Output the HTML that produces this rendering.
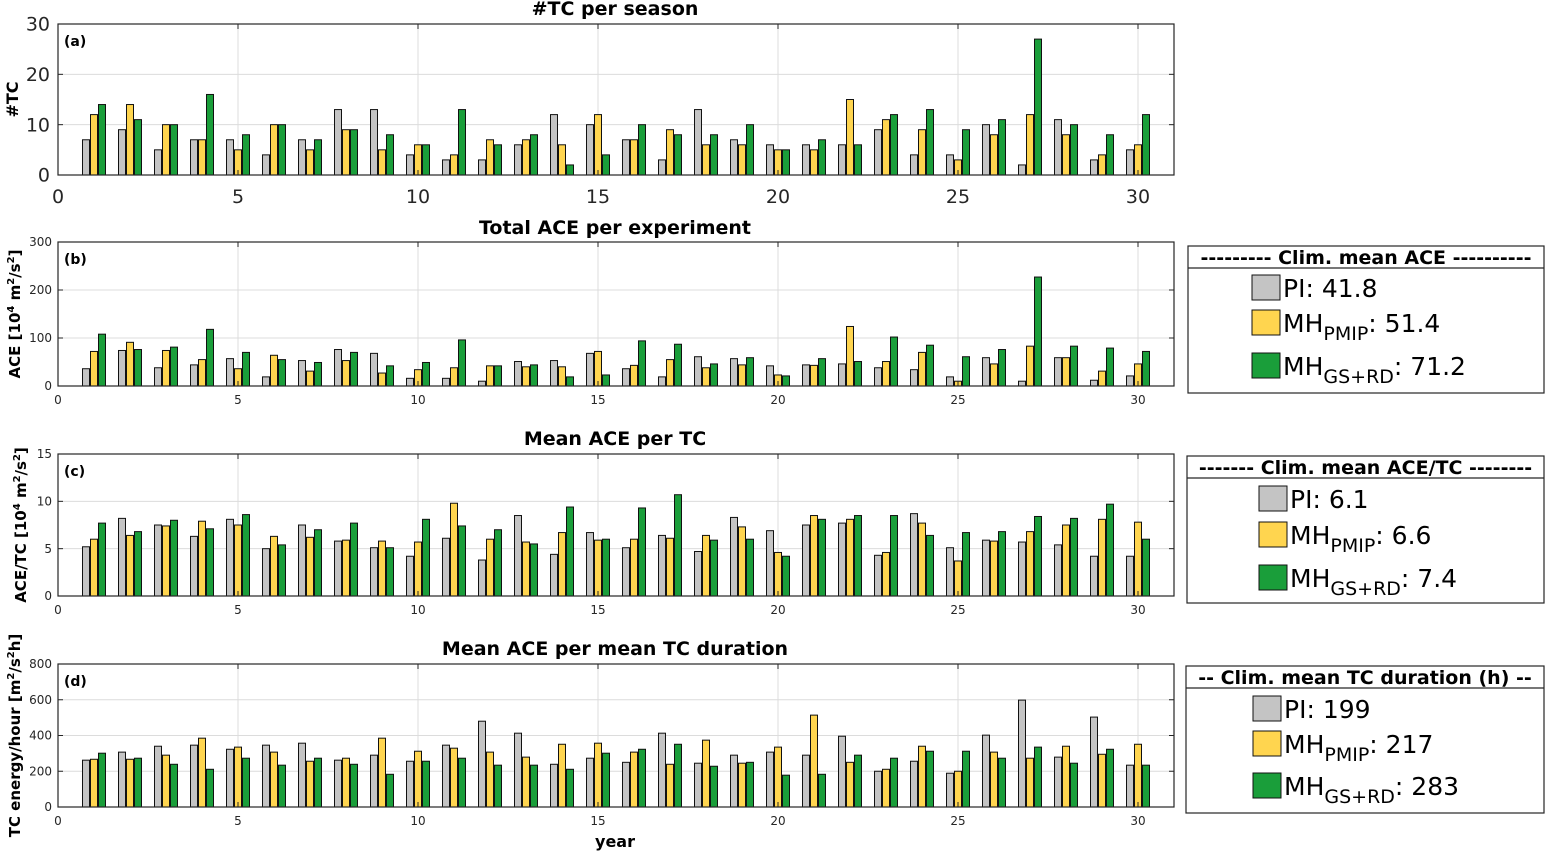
<!DOCTYPE html>
<html><head><meta charset="utf-8"><style>
body{margin:0;background:#fff;}
svg{display:block;font-family:"DejaVu Sans","Liberation Sans",sans-serif;}
</style></head><body>
<svg id="chart" width="1552" height="856" viewBox="0 0 1552 856"></svg>
<script>
const years=[1,2,3,4,5,6,7,8,9,10,11,12,13,14,15,16,17,18,19,20,21,22,23,24,25,26,27,28,29,30];
const tcPI=[7,9,5,7,7,4,7,13,13,4,3,3,6,12,10,7,3,13,7,6,6,6,9,4,4,10,2,11,3,5];
const tcPMIP=[12,14,10,7,5,10,5,9,5,6,4,7,7,6,12,7,9,6,6,5,5,15,11,9,3,8,12,8,4,6];
const tcGS=[14,11,10,16,8,10,7,9,8,6,13,6,8,2,4,10,8,8,10,5,7,6,12,13,9,11,27,10,8,12];
const acePI=[36,74,38,44,57,19,53,76,68,16,16,10,51,53,68,36,19,61,57,42,44,46,38,34,19,59,10,59,12,21];
const acePMIP=[72,91,74,55,36,64,31,53,27,34,38,42,40,40,72,43,55,38,44,23,43,124,51,70,10,46,83,59,31,46];
const aceGS=[108,76,81,118,70,55,49,70,42,49,96,42,44,19,23,94,87,46,59,21,57,51,102,85,61,76,227,83,79,72];
const atcPI=[5.2,8.2,7.5,6.3,8.1,5.0,7.5,5.8,5.1,4.2,6.1,3.8,8.5,4.4,6.7,5.1,6.4,4.7,8.3,6.9,7.5,7.7,4.3,8.7,5.1,5.9,5.7,5.4,4.2,4.2];
const atcPMIP=[6.0,6.4,7.4,7.9,7.5,6.3,6.2,5.9,5.8,5.7,9.8,6.0,5.7,6.7,5.9,6.0,6.1,6.4,7.3,4.6,8.5,8.1,4.6,7.7,3.7,5.8,6.8,7.5,8.1,7.8];
const atcGS=[7.7,6.8,8.0,7.1,8.6,5.4,7.0,7.7,5.1,8.1,7.4,7.0,5.5,9.4,6.0,9.3,10.7,5.9,6.0,4.2,8.1,8.5,8.5,6.4,6.7,6.8,8.4,8.2,9.7,6.0];
const durPI=[262,307,340,346,323,346,357,262,290,256,346,480,413,239,273,250,413,245,290,307,290,396,200,256,189,402,598,279,503,234];
const durPMIP=[267,267,290,385,335,307,256,273,385,312,329,307,279,351,357,307,239,374,245,335,514,250,211,340,200,307,273,340,295,351];
const durGS=[301,273,239,211,273,234,273,239,183,256,273,234,234,211,301,323,351,228,250,178,183,290,273,312,312,273,335,245,323,234];
const xTicks=[0,5,10,15,20,25,30];
const aceMeans=['41.8','51.4','71.2'];
const atcMeans=['6.1','6.6','7.4'];
const durMeans=['199','217','283'];

const NS="http://www.w3.org/2000/svg";
const svg=document.getElementById('chart');
function el(tag,attrs,parent){const e=document.createElementNS(NS,tag);for(const k in attrs)e.setAttribute(k,attrs[k]);(parent||svg).appendChild(e);return e;}
const X0=58,X1=1174,XMAX=31;
const xs=v=>X0+(X1-X0)*v/XMAX;
const colors=['#c4c4c4','#ffd54f','#1a9e3a'];
const names=['pi','mh-pmip','mh-gsrd'];

function panel(o){
  const ys=v=>o.y1-(o.y1-o.y0)*v/o.ymax;
  const g=el('g',{});
  
  
  el('rect',{x:X0,y:o.y0,width:X1-X0,height:o.y1-o.y0,fill:'#fff'},g);
  xTicks.forEach(t=>{ if(t>0){const l=el('line',{x1:xs(t),x2:xs(t),y1:o.y0,y2:o.y1,stroke:'#dcdcdc','stroke-width':1},g);
    
    }});
  o.yticks.forEach(t=>{ if(t>0&&t<o.ymax){const l=el('line',{x1:X0,x2:X1,y1:ys(t),y2:ys(t),stroke:'#dcdcdc','stroke-width':1},g);
    
    }});
  o.series.forEach((s,si)=>{
    s.forEach((v,i)=>{
      const cx=xs(years[i])+(si-1)*8;
      const r=el('rect',{x:cx-3.5,y:ys(v),width:7,height:o.y1-ys(v),fill:colors[si],stroke:'#111','stroke-width':1},g);
      
      
    });
  });
  el('rect',{x:X0,y:o.y0,width:X1-X0,height:o.y1-o.y0,fill:'none',stroke:'#262626','stroke-width':1.2},g);
  xTicks.forEach(t=>{
    el('line',{x1:xs(t),x2:xs(t),y1:o.y1,y2:o.y1-5,stroke:'#262626'},g);
    el('line',{x1:xs(t),x2:xs(t),y1:o.y0,y2:o.y0+5,stroke:'#262626'},g);
    const tx=el('text',{x:xs(t),y:o.y1+o.xlOff,'text-anchor':'middle','font-size':o.fs,fill:'#262626'},g);
    tx.textContent=t;
    
    
  });
  o.yticks.forEach(t=>{
    el('line',{x1:X0,x2:X0+5,y1:ys(t),y2:ys(t),stroke:'#262626'},g);
    el('line',{x1:X1,x2:X1-5,y1:ys(t),y2:ys(t),stroke:'#262626'},g);
    const tx=el('text',{x:X0-o.ylOff,y:ys(t)+o.fs*0.35,'text-anchor':'end','font-size':o.fs,fill:'#262626'},g);
    tx.textContent=t;
    
    
  });
  const pl=el('text',{x:64,y:o.y0+22,'font-size':14,'font-weight':'bold',fill:'#000'},g);
  pl.textContent=o.letter;
  
  
  const ti=el('text',{x:615,y:o.titleY,'text-anchor':'middle','font-size':19,'font-weight':'bold',fill:'#000'},g);
  ti.textContent=o.title;
  
  
  const yl=el('text',{x:0,y:0,'text-anchor':'middle','font-size':o.ylfs,'font-weight':'bold',fill:'#000',transform:'translate('+o.ylX+','+((o.y0+o.y1)/2)+') rotate(-90)'},g);
  yl.innerHTML=o.ylabel;
  
  
}
panel({name:'panel-a-tc-count',y0:24,y1:175,ymax:30,yticks:[0,10,20,30],series:[tcPI,tcPMIP,tcGS],fs:19,xlOff:28,ylOff:8,letter:'(a)',title:'#TC per season',titleY:15,ylabel:'#TC',ylfs:16,ylX:18});
panel({name:'panel-b-total-ace',y0:242,y1:386,ymax:300,yticks:[0,100,200,300],series:[acePI,acePMIP,aceGS],fs:12,xlOff:18,ylOff:6,letter:'(b)',title:'Total ACE per experiment',titleY:234,ylabel:'ACE [10<tspan dy="-6" font-size="10">4</tspan><tspan dy="6"> m</tspan><tspan dy="-6" font-size="10">2</tspan><tspan dy="6">/s</tspan><tspan dy="-6" font-size="10">2</tspan><tspan dy="6">]</tspan>',ylfs:15,ylX:20});
panel({name:'panel-c-ace-per-tc',y0:454,y1:596,ymax:15,yticks:[0,5,10,15],series:[atcPI,atcPMIP,atcGS],fs:12,xlOff:18,ylOff:6,letter:'(c)',title:'Mean ACE per TC',titleY:445,ylabel:'ACE/TC [10<tspan dy="-6" font-size="10">4</tspan><tspan dy="6"> m</tspan><tspan dy="-6" font-size="10">2</tspan><tspan dy="6">/s</tspan><tspan dy="-6" font-size="10">2</tspan><tspan dy="6">]</tspan>',ylfs:15,ylX:26});
panel({name:'panel-d-ace-per-duration',y0:664,y1:807,ymax:800,yticks:[0,200,400,600,800],series:[durPI,durPMIP,durGS],fs:12,xlOff:18,ylOff:6,letter:'(d)',title:'Mean ACE per mean TC duration',titleY:655,ylabel:'TC energy/hour [m<tspan dy="-6" font-size="10">2</tspan><tspan dy="6">/s</tspan><tspan dy="-6" font-size="10">2</tspan><tspan dy="6">h]</tspan>',ylfs:15,ylX:20});
const xl=el('text',{x:615,y:847,'text-anchor':'middle','font-size':16,'font-weight':'bold',fill:'#000'});
xl.textContent='year';



function legend(o){
  const g=el('g',{});
  
  
  el('rect',{x:o.x,y:o.y,width:1544-o.x,height:147,fill:'#fff',stroke:'#262626','stroke-width':1.2},g);
  el('line',{x1:o.x,x2:1544,y1:o.y+22,y2:o.y+22,stroke:'#262626','stroke-width':1.2},g);
  const t=el('text',{x:(o.x+1544)/2,y:o.y+18,'text-anchor':'middle','font-size':19,'font-weight':'bold',fill:'#000'},g);
  t.textContent=o.title;
  
  
  const labels=['PI: '+o.vals[0],'MH<tspan font-size="19" dy="8">PMIP</tspan><tspan dy="-8">: '+o.vals[1]+'</tspan>','MH<tspan font-size="19" dy="8">GS+RD</tspan><tspan dy="-8">: '+o.vals[2]+'</tspan>'];
  o.rows.forEach((ry,i)=>{
    const s=el('rect',{x:o.sx,y:ry-13,width:28,height:25,fill:colors[i],stroke:'#111','stroke-width':1},g);
    
    
    const tx=el('text',{x:o.sx+31,y:ry+9,'font-size':25,fill:'#000'},g);
    tx.innerHTML=labels[i];
    
    
  });
}
legend({name:'legend-ace',x:1188,y:246,title:'--------- Clim. mean ACE ----------',vals:aceMeans,sx:1252,rows:[288,323,366]});
legend({name:'legend-ace-per-tc',x:1187,y:456,title:'------- Clim. mean ACE/TC --------',vals:atcMeans,sx:1259,rows:[499,535,578]});
legend({name:'legend-duration',x:1186,y:666,title:'-- Clim. mean TC duration (h) --',vals:durMeans,sx:1253,rows:[709,744,786]});
</script>
</body></html>
